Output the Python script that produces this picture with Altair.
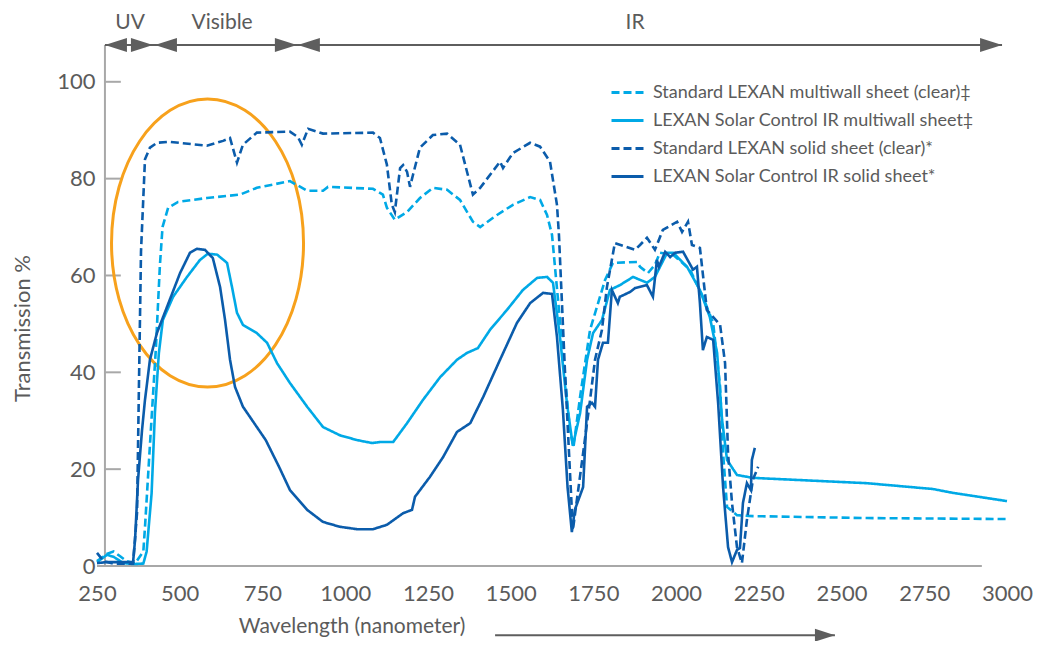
import altair as alt
import pandas as pd

FONT = "Lato"
GRAY = "#5b5b5b"
AXIS_GRAY = "#a8a8a8"
ARROW_GRAY = "#5e5e5e"
LIGHT = "#00a9e6"
DARK = "#0b5cab"
ORANGE = "#f7a11c"

SERIES = [
    "Standard LEXAN multiwall sheet (clear)‡",
    "LEXAN Solar Control IR multiwall sheet‡",
    "Standard LEXAN solid sheet (clear)*",
    "LEXAN Solar Control IR solid sheet*",
]
COLORS = [LIGHT, LIGHT, DARK, DARK]
DASHES = [[8, 4], [1, 0], [8, 4], [1, 0]]

# Standard LEXAN multiwall sheet (clear) - light dashed
mw_clear_nm = [250, 280, 300, 320, 340, 365, 390, 395, 410, 428, 440, 448, 465, 495, 582, 682, 733, 833,
               885, 933, 948, 1084, 1114, 1126, 1150, 1187, 1226, 1265, 1308, 1347, 1386, 1408, 1459,
               1507, 1559, 1589, 1610, 1625, 1650, 1679, 1690, 1710, 1740, 1785, 1809, 1882, 1891, 1915,
               1936, 1951, 1991, 2042, 2081, 2112, 2133, 2142, 2154, 2184, 2232, 2577, 3000]
mw_clear_val = [1.0, 2.5, 3.0, 2.0, 1.0, 0.5, 3.0, 8.0, 25.0, 45.0, 62.0, 70.0, 74.0, 75.2, 76.0, 76.7, 78.1, 79.5,
                77.5, 77.5, 78.3, 77.9, 76.7, 74.0, 71.5, 73.1, 76.0, 78.1, 77.7, 75.6, 71.1, 70.0, 72.5,
                74.6, 76.2, 75.6, 72.5, 68.4, 50.0, 28.0, 24.6, 35.0, 48.8, 59.0, 62.6, 62.8, 61.8, 60.5,
                62.2, 64.7, 64.3, 61.2, 55.6, 50.2, 37.0, 23.3, 12.2, 10.5, 10.3, 9.9, 9.7]

# LEXAN Solar Control IR multiwall sheet - light solid
mw_ir_nm = [250, 280, 300, 330, 360, 390, 400, 415, 425, 437, 449, 480, 522, 561, 585, 613, 643, 658, 673,
            691, 733, 764, 794, 833, 885, 933, 984, 1036, 1081, 1105, 1145, 1187, 1235, 1287, 1338, 1368,
            1401, 1438, 1489, 1537, 1580, 1610, 1628, 1649, 1670, 1688, 1710, 1731, 1749, 1776, 1800,
            1830, 1870, 1912, 1936, 1973, 1991, 2033, 2072, 2102, 2124, 2139, 2154, 2184, 2232, 2577,
            2776, 2837, 3000]
mw_ir_val = [0.8, 2.3, 1.9, 0.6, 0.4, 0.5, 3.0, 15.0, 31.6, 44.0, 50.8, 55.6, 59.7, 63.2, 64.5, 64.3, 62.6,
             57.6, 52.3, 49.8, 48.1, 46.1, 41.9, 37.8, 32.9, 28.7, 27.0, 26.0, 25.4, 25.6, 25.6, 29.5, 34.3,
             39.0, 42.6, 44.0, 45.0, 48.8, 52.9, 57.0, 59.5, 59.7, 58.5, 47.3, 33.7, 24.8, 31.6, 42.6, 48.1,
             50.8, 57.0, 58.0, 59.7, 58.5, 59.7, 64.7, 64.7, 61.8, 57.0, 51.4, 44.0, 30.2, 21.9, 18.8, 18.2,
             17.1, 15.9, 15.1, 13.4]

# Standard LEXAN solid sheet (clear) - dark dashed
s_clear_nm = [250, 270, 300, 359, 371, 377, 383, 395, 410, 431, 470, 582, 631, 652, 673, 691, 733, 833, 857,
              869, 888, 933, 1084, 1105, 1126, 1141, 1150, 1166, 1175, 1187, 1196, 1205, 1226, 1265, 1308,
              1347, 1386, 1408, 1468, 1477, 1507, 1559, 1589, 1619, 1640, 1646, 1664, 1688, 1719, 1740, 1755,
              1776, 1791, 1815, 1876, 1891, 1912, 1936, 1960, 2003, 2018, 2036, 2048, 2072, 2093, 2133, 2148,
              2157, 2169, 2184, 2199, 2214, 2232, 2248]
s_clear_val = [2.7, 1.0, 0.5, 0.5, 11.0, 38.4, 65.0, 84.0, 86.4, 87.4, 87.6, 86.8, 87.8, 88.4, 83.3, 87.0,
               89.5, 89.7, 88.6, 87.0, 90.3, 89.3, 89.5, 88.4, 82.9, 74.6, 73.1, 82.2, 82.8, 81.4, 78.3, 80.8,
               86.4, 89.0, 89.3, 87.0, 76.7, 78.1, 83.5, 82.2, 85.3, 87.4, 86.6, 83.5, 74.6, 68.4, 40.5, 7.4,
               23.3, 34.3, 42.6, 48.8, 57.6, 66.7, 65.3, 66.3, 67.8, 65.3, 69.4, 71.1, 69.0, 71.1, 66.3, 65.7,
               52.9, 49.8, 41.9, 23.3, 13.0, 3.9, 0.6, 9.5, 17.8, 20.5]

# LEXAN Solar Control IR solid sheet - dark solid
s_ir_nm = [250, 280, 359, 365, 374, 386, 395, 410, 431, 470, 501, 531, 552, 576, 600, 622, 637, 652, 667, 691,
           718, 760, 800, 833, 885, 933, 984, 1036, 1084, 1126, 1175, 1202, 1211, 1256, 1296, 1338, 1378,
           1417, 1468, 1519, 1559, 1598, 1625, 1640, 1658, 1672, 1685, 1694, 1719, 1731, 1746, 1755, 1764,
           1779, 1794, 1806, 1824, 1830, 1861, 1876, 1912, 1930, 1942, 1948, 1967, 1982, 1997, 2021, 2051,
           2063, 2072, 2081, 2093, 2112, 2127, 2142, 2157, 2169, 2184, 2193, 2202, 2214, 2226, 2229, 2238]
s_ir_val = [0.6, 0.8, 0.8, 5.4, 17.8, 28.0, 34.3, 42.6, 48.1, 55.0, 60.5, 64.7, 65.5, 65.3, 63.6, 57.6, 50.8,
            42.6, 37.0, 32.9, 30.2, 26.0, 20.5, 15.7, 11.6, 9.1, 8.1, 7.6, 7.6, 8.5, 10.9, 11.6, 14.3, 18.4,
            22.5, 27.7, 29.5, 34.9, 42.6, 50.2, 54.3, 56.4, 56.2, 47.3, 32.2, 16.3, 7.0, 11.6, 16.3, 32.9,
            33.7, 32.9, 42.6, 46.1, 46.1, 57.0, 54.3, 55.6, 56.6, 57.4, 58.0, 55.6, 63.2, 61.8, 64.9, 63.8,
            64.7, 64.9, 61.2, 61.8, 54.3, 44.6, 47.3, 46.7, 33.7, 16.3, 3.9, 0.8, 3.3, 3.7, 13.0, 17.1, 15.7,
            21.9, 24.4]

X_TICKS = [250, 500, 750, 1000, 1250, 1500, 1750, 2000, 2250, 2500, 2750, 3000]
Y_TICKS = [0, 20, 40, 60, 80, 100]

TOP_LABELS = ["UV", "Visible", "IR"]
TOP_LABEL_NM = [350, 628, 1876]
# spectral band arrows (nm): start tip, end tip
BAND_START = [274, 425, 857]
BAND_END = [419, 854, 2985]

rows = []
for name, xs_, vs_ in zip(SERIES, [mw_clear_nm, mw_ir_nm, s_clear_nm, s_ir_nm],
                          [mw_clear_val, mw_ir_val, s_clear_val, s_ir_val]):
    for i, (a, b) in enumerate(zip(xs_, vs_)):
        rows.append({"series": name, "nm": a, "val": b, "idx": i})
df = pd.DataFrame(rows)

XMIN, XMAX, YMAX = 250, 3000, 107.6
xsc = alt.Scale(domain=[XMIN, XMAX], nice=False, zero=False)
ysc = alt.Scale(domain=[0, YMAX], nice=False, zero=False)

X_AXIS = alt.Axis(values=X_TICKS, format="d", title=None, domain=False, ticks=False, tickSize=0,
                  grid=False, labelFontSize=22, labelColor=GRAY, labelFont=FONT, labelPadding=17,
                  labelFlush=False)
Y_AXIS = alt.Axis(values=Y_TICKS, format="d", title="Transmission %", domain=False, ticks=False,
                  tickSize=0, grid=False, labelFontSize=22, labelColor=GRAY, labelFont=FONT,
                  labelPadding=2, titleFont=FONT, titleFontSize=22, titleFontWeight="normal",
                  titleColor=GRAY, titleX=-75, titleY=283, titleBaseline="middle", titleAlign="center",
                  titleAngle=270)


def X(field):
    return alt.X(field, scale=xsc, axis=X_AXIS)


def Y(field):
    return alt.Y(field, scale=ysc, axis=Y_AXIS)


legend = alt.Legend(title=None, orient="none", legendX=519, legendY=36, labelFont=FONT,
                    labelFontSize=18, labelColor=GRAY, symbolType="M-1.6,0L1.6,0", symbolSize=400,
                    symbolStrokeWidth=3, rowPadding=7, labelOffset=14, padding=0, labelLimit=600)

lines = alt.Chart(df).mark_line(strokeWidth=2.6).encode(
    x=X("nm:Q"),
    y=Y("val:Q"),
    color=alt.Color("series:N", scale=alt.Scale(domain=SERIES, range=COLORS), legend=legend),
    strokeDash=alt.StrokeDash("series:N", scale=alt.Scale(domain=SERIES, range=DASHES), legend=legend),
    order=alt.Order("idx:Q"),
)

# axis lines and inward ticks
axes_df = pd.DataFrame({"x0": [XMIN, 274], "x1": [2924, 274], "y0": [0, 0], "y1": [0, YMAX]})
axis_lines = alt.Chart(axes_df).mark_rule(color=AXIS_GRAY, strokeWidth=2).encode(
    x=X("x0:Q"), x2="x1:Q", y=Y("y0:Q"), y2="y1:Q",
)
ticks_df = pd.DataFrame({"y": Y_TICKS, "x0": [274] * len(Y_TICKS), "x1": [322] * len(Y_TICKS)})
tick_marks = alt.Chart(ticks_df).mark_rule(color=AXIS_GRAY, strokeWidth=2).encode(
    x=X("x0:Q"), x2="x1:Q", y=Y("y:Q"),
)

# highlight ellipse
ELLIPSE = ("M0,-1 C0.3682,-1 0.6667,-0.5523 0.6667,0 C0.6667,0.5523 0.3682,1 0,1 "
           "C-0.3682,1 -0.6667,0.5523 -0.6667,0 C-0.6667,-0.5523 -0.3682,-1 0,-1 Z")
ell_df = pd.DataFrame({"nm": [584], "val": [66.7]})
ellipse = alt.Chart(ell_df).mark_point(shape=ELLIPSE, size=82944, filled=False, stroke=ORANGE,
                                       strokeWidth=3, opacity=1).encode(x=X("nm:Q"), y=Y("val:Q"))

RIGHT_HEAD = "M-2,-0.64L0,0L-2,0.64Z"
LEFT_HEAD = "M2,-0.64L0,0L2,0.64Z"

band_line_df = pd.DataFrame({"x0": [BAND_START[0]], "x1": [BAND_END[-1]], "y": [YMAX]})
band_line = alt.Chart(band_line_df).mark_rule(color=ARROW_GRAY, strokeWidth=2).encode(
    x=X("x0:Q"), x2="x1:Q", y=Y("y:Q"))
starts_df = pd.DataFrame({"nm": BAND_START, "val": [YMAX] * 3})
ends_df = pd.DataFrame({"nm": BAND_END, "val": [YMAX] * 3})
left_heads = alt.Chart(starts_df).mark_point(shape=LEFT_HEAD, size=484, filled=True, fill=ARROW_GRAY,
                                             strokeWidth=0, opacity=1).encode(x=X("nm:Q"), y=Y("val:Q"))
right_heads = alt.Chart(ends_df).mark_point(shape=RIGHT_HEAD, size=484, filled=True, fill=ARROW_GRAY,
                                            strokeWidth=0, opacity=1).encode(x=X("nm:Q"), y=Y("val:Q"))

top_df = pd.DataFrame({"label": TOP_LABELS, "nm": TOP_LABEL_NM, "val": [112.2] * 3})
top_text = alt.Chart(top_df).mark_text(font=FONT, fontSize=21, color=GRAY, baseline="middle",
                                       align="center").encode(x=X("nm:Q"), y=Y("val:Q"), text="label:N")

# bottom axis title with arrow
xt_df = pd.DataFrame({"label": ["Wavelength (nanometer)"], "nm": [1021], "val": [-12.6]})
x_title = alt.Chart(xt_df).mark_text(font=FONT, fontSize=21, color=GRAY, baseline="middle",
                                     align="center").encode(x=X("nm:Q"), y=Y("val:Q"), text="label:N")
xa_df = pd.DataFrame({"x0": [1453], "x1": [2480], "y": [-14.3]})
x_arrow = alt.Chart(xa_df).mark_rule(color=ARROW_GRAY, strokeWidth=2).encode(
    x=X("x0:Q"), x2="x1:Q", y=Y("y:Q"))
xa_head = alt.Chart(pd.DataFrame({"nm": [2480], "val": [-14.3]})).mark_point(
    shape=RIGHT_HEAD, size=400, filled=True, fill=ARROW_GRAY, strokeWidth=0, opacity=1).encode(
    x=X("nm:Q"), y=Y("val:Q"))

chart = alt.layer(
    axis_lines, tick_marks, ellipse, lines, band_line, left_heads, right_heads, top_text,
    x_title, x_arrow, xa_head,
).properties(
    width=910, height=521,
    padding={"left": 89, "top": 37, "right": 36, "bottom": 75},
    autosize=alt.AutoSizeParams(type="none"),
    background="white",
).configure_view(strokeWidth=0)

chart.save("out.html", embed_options={"renderer": "svg", "actions": False})
